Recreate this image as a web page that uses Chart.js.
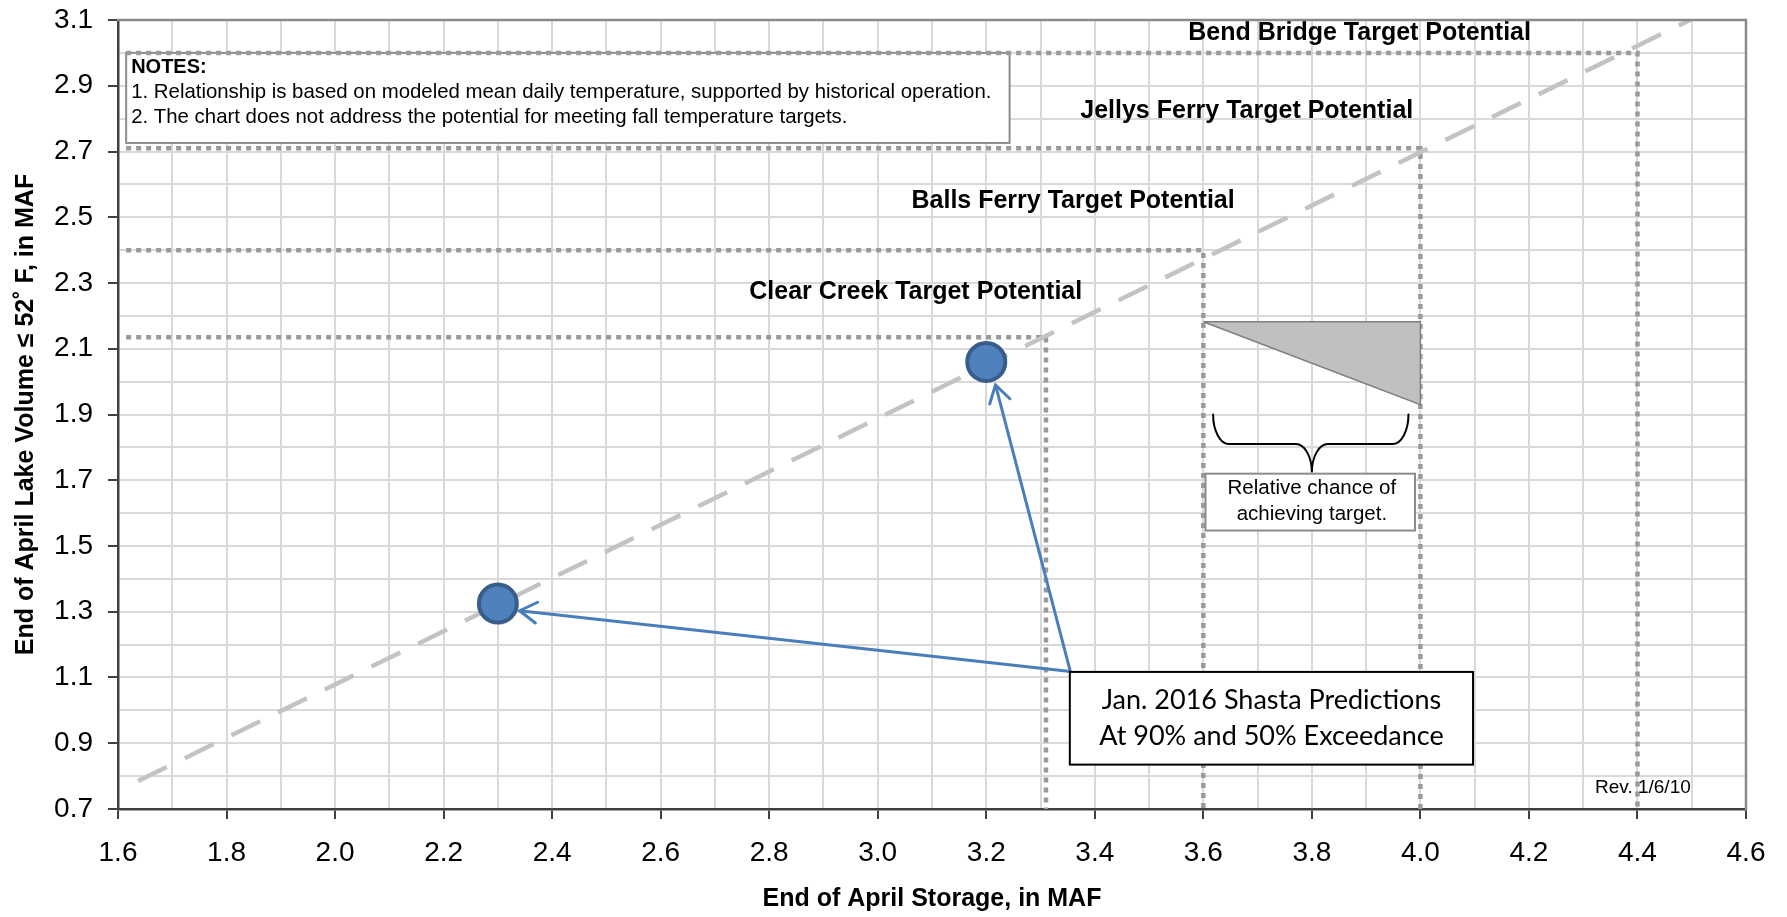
<!DOCTYPE html>
<html>
<head>
<meta charset="utf-8">
<script src="https://cdn.jsdelivr.net/npm/chart.js@4.4.1/dist/chart.umd.min.js"></script>
<style>
  body { margin: 0; background: #fff; }
  canvas { display: block; }
</style>
</head>
<body>
<canvas id="chart" width="1787" height="917"></canvas>
<script>
// relationship line: end of April storage vs lake volume <= 52 F
const trendStorage = [1.637, 4.497];
const trendVolume = [0.785, 3.1];

// target potentials (storage where each target becomes reachable)
const targetNames = ["Clear Creek", "Balls Ferry", "Jellys Ferry", "Bend Bridge"];
const targetStorage = [3.31, 3.6, 4.0, 4.4];
const targetVolume = [2.135, 2.4, 2.71, 3.0];
const guideStart = 1.615;

// Jan. 2016 Shasta predictions (90% and 50% exceedance)
const predStorage = [2.3, 3.2];
const predVolume = [1.325, 2.06];
const arrowTipStorage = [2.34, 3.217];
const arrowTipVolume = [1.303, 1.99];
const calloutCorner = [3.355, 1.118];

// relative chance wedge
const wedgeStorage = [3.6, 4.0, 4.0, 3.6];
const wedgeVolume = [2.182, 2.182, 1.93, 2.182];

const xTickLabels = ["1.6", "1.8", "2.0", "2.2", "2.4", "2.6", "2.8", "3.0", "3.2", "3.4", "3.6", "3.8", "4.0", "4.2", "4.4", "4.6"];
const yTickLabels = ["0.7", "0.9", "1.1", "1.3", "1.5", "1.7", "1.9", "2.1", "2.3", "2.5", "2.7", "2.9", "3.1"];

const notes = [
    "1. Relationship is based on modeled mean daily temperature, supported by historical operation.",
    "2. The chart does not address the potential for meeting fall temperature targets."
];

const FONT = '"Liberation Sans", Arial, sans-serif';

const pts = (xs, ys) => xs.map((x, i) => ({x: x, y: ys[i]}));

const guideSets = targetNames.map((name, i) => ({
    label: name,
    data: [
        {x: guideStart, y: targetVolume[i]},
        {x: targetStorage[i], y: targetVolume[i]},
        {x: targetStorage[i], y: 0.7}
    ],
    borderColor: "#9a9a9a",
    borderWidth: 4.5,
    borderDash: [5, 5],
    pointRadius: 0,
    order: 5
}));

const arrowSets = predStorage.map((s, i) => ({
    label: "arrow" + i,
    data: [
        {x: calloutCorner[0], y: calloutCorner[1]},
        {x: arrowTipStorage[i], y: arrowTipVolume[i]}
    ],
    borderColor: "#4a7ebb",
    borderWidth: 3,
    pointRadius: 0,
    order: 2
}));

const isMajor = (v, list) => list.includes(Number(v).toFixed(1));

const overlay = {
    id: "overlay",
    beforeDatasetsDraw(chart) {
        const {ctx, scales: {x, y}} = chart;
        // notes box
        const l = x.getPixelForValue(1.615), r = x.getPixelForValue(3.243);
        const t = y.getPixelForValue(3.0), b = y.getPixelForValue(2.726);
        ctx.save();
        ctx.fillStyle = "#fff";
        ctx.fillRect(l, t, r - l, b - t);
        ctx.strokeStyle = "#8c8c8c";
        ctx.lineWidth = 2;
        ctx.strokeRect(l, t, r - l, b - t);
        ctx.fillStyle = "#000";
        ctx.textAlign = "left";
        ctx.textBaseline = "middle";
        ctx.font = "bold 20px " + FONT;
        ctx.fillText("NOTES:", l + 5, t + 14.5);
        ctx.font = "20.4px " + FONT;
        ctx.fillText(notes[0], l + 5, t + 39);
        ctx.fillText(notes[1], l + 5, t + 64);
        ctx.restore();
    },
    afterDatasetsDraw(chart) {
        const {ctx, scales: {x, y}, chartArea: ca} = chart;
        const px = v => x.getPixelForValue(v);
        const py = v => y.getPixelForValue(v);
        ctx.save();

        // arrowheads
        chart.data.datasets.forEach((ds, i) => {
            if (!ds.label.startsWith("arrow")) return;
            const meta = chart.getDatasetMeta(i);
            const p0 = meta.data[0], p1 = meta.data[1];
            const a = Math.atan2(p1.y - p0.y, p1.x - p0.x);
            ctx.strokeStyle = ds.borderColor;
            ctx.lineWidth = 3;
            ctx.lineCap = "round";
            ctx.beginPath();
            ctx.moveTo(p1.x - 20 * Math.cos(a - 0.55), p1.y - 20 * Math.sin(a - 0.55));
            ctx.lineTo(p1.x, p1.y);
            ctx.lineTo(p1.x - 20 * Math.cos(a + 0.55), p1.y - 20 * Math.sin(a + 0.55));
            ctx.stroke();
        });

        // callout box
        let l = px(3.354), r = px(4.097), t = py(1.117), b = py(0.835);
        ctx.fillStyle = "#fff";
        ctx.fillRect(l, t, r - l, b - t);
        ctx.strokeStyle = "#000";
        ctx.lineWidth = 2;
        ctx.strokeRect(l, t, r - l, b - t);
        ctx.fillStyle = "#000";
        ctx.textAlign = "center";
        ctx.textBaseline = "middle";
        ctx.font = '27px Lato, "Open Sans", sans-serif';
        ctx.fillText("Jan. 2016 Shasta Predictions", (l + r) / 2, py(1.032));
        ctx.fillText("At 90% and 50% Exceedance", (l + r) / 2, py(0.92));

        // relative chance box
        l = px(3.604); r = px(3.99); t = py(1.72); b = py(1.547);
        ctx.fillStyle = "#fff";
        ctx.fillRect(l, t, r - l, b - t);
        ctx.strokeStyle = "#8c8c8c";
        ctx.strokeRect(l, t, r - l, b - t);
        ctx.fillStyle = "#000";
        ctx.font = "20.5px " + FONT;
        ctx.fillText("Relative chance of", px(3.8), py(1.674));
        ctx.fillText("achieving target.", px(3.8), py(1.595));

        // brace
        const L = px(3.618), R = px(3.978), C = px(3.8);
        const top = py(1.9), mid = py(1.81), tip = py(1.724);
        const k = 0.552, d = 16;
        ctx.strokeStyle = "#000";
        ctx.lineWidth = 2;
        ctx.beginPath();
        ctx.moveTo(L, top);
        ctx.bezierCurveTo(L, top + k * (mid - top), L + d * (1 - k), mid, L + d, mid);
        ctx.lineTo(C - d, mid);
        ctx.bezierCurveTo(C - d + k * d, mid, C, mid + (1 - k) * (tip - mid), C, tip);
        ctx.bezierCurveTo(C, mid + (1 - k) * (tip - mid), C + d - k * d, mid, C + d, mid);
        ctx.lineTo(R - d, mid);
        ctx.bezierCurveTo(R - d * (1 - k), mid, R, top + k * (mid - top), R, top);
        ctx.stroke();

        // target labels
        ctx.font = "bold 25px " + FONT;
        ctx.fillText("Bend Bridge Target Potential", px(3.888), py(3.059));
        ctx.fillText("Jellys Ferry Target Potential", px(3.68), py(2.823));
        ctx.fillText("Balls Ferry Target Potential", px(3.36), py(2.549));
        ctx.fillText("Clear Creek Target Potential", px(3.07), py(2.273));

        // revision note
        ctx.font = "19px " + FONT;
        ctx.fillText("Rev. 1/6/10", px(4.41), py(0.764));

        // top and right frame
        ctx.strokeStyle = "#8a8a8a";
        ctx.lineWidth = 2.5;
        ctx.beginPath();
        ctx.moveTo(ca.left, ca.top);
        ctx.lineTo(ca.right, ca.top);
        ctx.lineTo(ca.right, ca.bottom);
        ctx.stroke();
        ctx.restore();
    }
};

new Chart(document.getElementById("chart"), {
    type: "line",
    data: {
        datasets: [
            {
                label: "predictions",
                data: pts(predStorage, predVolume),
                showLine: false,
                pointRadius: 19,
                pointBorderWidth: 4,
                pointBackgroundColor: "#4f81bd",
                pointBorderColor: "#385d8a",
                order: 1
            },
            ...arrowSets,
            {
                label: "relationship",
                data: pts(trendStorage, trendVolume),
                borderColor: "#c3c3c3",
                borderWidth: 4.5,
                borderDash: [32, 20],
                pointRadius: 0,
                order: 3
            },
            {
                label: "wedge",
                data: pts(wedgeStorage, wedgeVolume),
                borderColor: "#7f7f7f",
                borderWidth: 1.5,
                backgroundColor: "#c0c0c0",
                fill: "shape",
                pointRadius: 0,
                order: 4
            },
            ...guideSets
        ]
    },
    options: {
        responsive: false,
        animation: false,
        layout: { autoPadding: false, padding: { top: 20, right: 41, bottom: 0, left: 0 } },
        plugins: {
            legend: { display: false },
            tooltip: { enabled: false }
        },
        scales: {
            x: {
                type: "linear",
                min: 1.6,
                max: 4.6,
                afterFit: s => { s.height = 108; },
                ticks: {
                    stepSize: 0.1,
                    autoSkip: false,
                    maxRotation: 0,
                    padding: 17,
                    color: "#000",
                    font: { family: FONT, size: 28, lineHeight: 1.2 },
                    callback: v => isMajor(v, xTickLabels) ? Number(v).toFixed(1) : ""
                },
                grid: {
                    color: "#d9d9d9",
                    lineWidth: 2,
                    tickLength: 10,
                    tickWidth: 2,
                    tickColor: c => (c.tick && isMajor(c.tick.value, xTickLabels)) ? "#404040" : "rgba(0,0,0,0)"
                },
                border: { color: "#404040", width: 2.5 },
                title: {
                    display: true,
                    text: "End of April Storage, in MAF",
                    color: "#000",
                    font: { family: FONT, size: 25, weight: "bold", lineHeight: 1.2 },
                    padding: { top: 0, bottom: 3 }
                }
            },
            y: {
                type: "linear",
                min: 0.7,
                max: 3.1,
                afterFit: s => { s.width = 118; },
                ticks: {
                    stepSize: 0.1,
                    autoSkip: false,
                    padding: 15,
                    color: "#000",
                    font: { family: FONT, size: 28, lineHeight: 0.3 },
                    callback: v => isMajor(v, yTickLabels) ? Number(v).toFixed(1) : ""
                },
                grid: {
                    color: "#d9d9d9",
                    lineWidth: 2,
                    tickLength: 10,
                    tickWidth: 2,
                    tickColor: c => (c.tick && isMajor(c.tick.value, yTickLabels)) ? "#404040" : "rgba(0,0,0,0)"
                },
                border: { color: "#404040", width: 2.5 },
                title: {
                    display: true,
                    text: "End of April Lake Volume \u2264 52\u02DA F, in MAF",
                    color: "#000",
                    font: { family: FONT, size: 25, weight: "bold", lineHeight: 1.2 },
                    padding: { top: 11, bottom: 0 }
                }
            }
        }
    },
    plugins: [overlay]
});
</script>
</body>
</html>
